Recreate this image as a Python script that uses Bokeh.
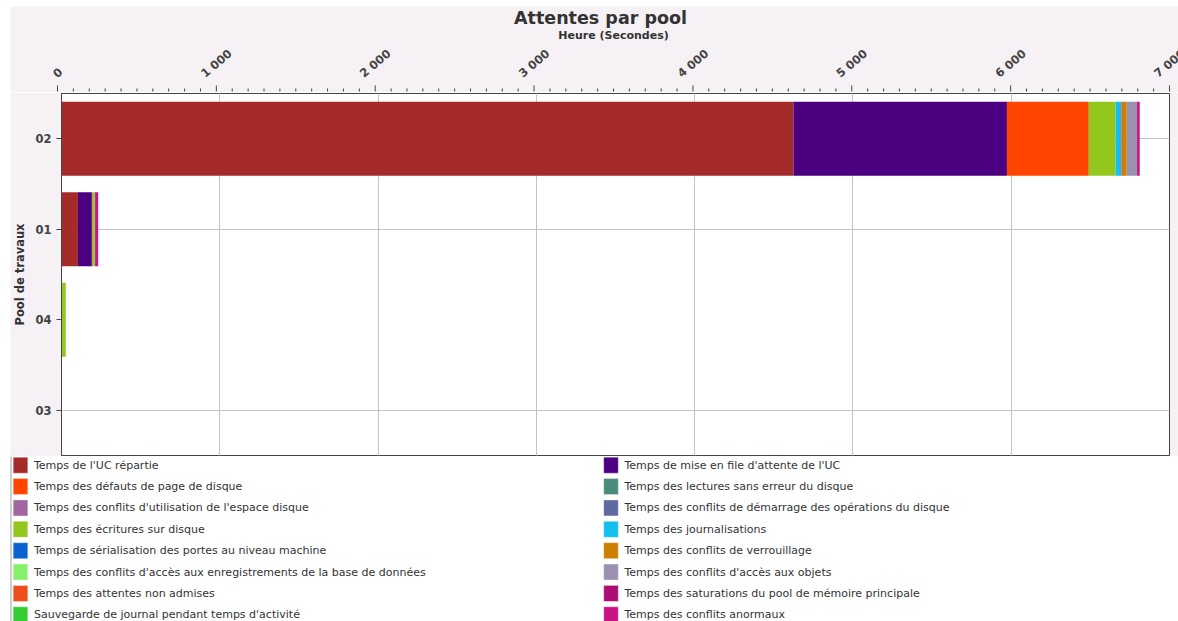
import math
from bokeh.plotting import figure
from bokeh.models import (ColumnDataSource, Range1d, FactorRange, FixedTicker,
                          Span, Spacer, Grid)
from bokeh.layouts import column, row
from bokeh.embed import file_html
from bokeh.resources import INLINE
from bokeh.core.properties import value

# ---------------- data ----------------
pools = ["02", "01", "04", "03"]          # top to bottom

series_labels = [
    "Temps de l'UC répartie",
    "Temps de mise en file d'attente de l'UC",
    "Temps des défauts de page de disque",
    "Temps des lectures sans erreur du disque",
    "Temps des conflits d'utilisation de l'espace disque",
    "Temps des conflits de démarrage des opérations du disque",
    "Temps des écritures sur disque",
    "Temps des journalisations",
    "Temps de sérialisation des portes au niveau machine",
    "Temps des conflits de verrouillage",
    "Temps des conflits d'accès aux enregistrements de la base de données",
    "Temps des conflits d'accès aux objets",
    "Temps des attentes non admises",
    "Temps des saturations du pool de mémoire principale",
    "Sauvegarde de journal pendant temps d'activité",
    "Temps des conflits anormaux",
]

series_colors = [
    "#A52A2A", "#4B0082", "#FF4500", "#4A8C7C",
    "#A165A0", "#5F6A9F", "#93C71E", "#12BFEF",
    "#0B63D3", "#CC7F00", "#87F06A", "#9B90AF",
    "#EE4E1B", "#AD0E73", "#33CC33", "#C71585",
]

# values per pool, in the order of `pools` (seconds)
uc_repartie          = [4625, 104, 0, 0]
file_attente_uc      = [1348, 88, 0, 0]
defauts_page         = [517, 0, 0, 0]
lectures_disque      = [0, 0, 0, 0]
conflits_espace      = [0, 0, 0, 0]
conflits_demarrage   = [0, 0, 0, 0]
ecritures_disque     = [170, 14, 27, 0]
journalisations      = [31, 0, 0, 0]
serialisation        = [6, 0, 0, 0]
verrouillage         = [33, 3, 0, 0]
enregistrements      = [0, 0, 0, 0]
acces_objets         = [65, 3, 0, 0]
attentes_non_admises = [0, 0, 0, 0]
saturations_memoire  = [0, 0, 0, 0]
sauvegarde_journal   = [0, 0, 0, 0]
conflits_anormaux    = [17, 20, 0, 0]

tick_values = [0, 1000, 2000, 3000, 4000, 5000, 6000, 7000]
tick_labels = ["0", "1 000", "2 000", "3 000", "4 000", "5 000", "6 000", "7 000"]
minor_tick_values = [v for v in range(0, 7001, 100) if v % 1000]

chart_title = "Attentes par pool"
x_title = "Heure (Secondes)"
y_title = "Pool de travaux"

series_values = [
    uc_repartie, file_attente_uc, defauts_page, lectures_disque,
    conflits_espace, conflits_demarrage, ecritures_disque, journalisations,
    serialisation, verrouillage, enregistrements, acces_objets,
    attentes_non_admises, saturations_memoire, sauvegarde_journal, conflits_anormaux,
]

# ---------------- geometry (page pixels) ----------------
FONT = "DejaVu Sans"
PANEL = "#F5F1F5"
AX = "#444444"
X0_PAGE, TOP_PAGE = 10, 6            # panel origin
FRAME_L, FRAME_R = 57, 1169          # frame left / right on the page
FRAME_T, FRAME_B = 93, 455           # frame top / bottom on the page
XMAX = 7000
PX_PER_UNIT = (FRAME_R - FRAME_L) / XMAX
PW = 1178 - X0_PAGE                  # panel width

# ---------------- main chart (frame + y axis) ----------------
keys = [f"s{i}" for i in range(len(series_labels))]
data = {"pool": pools}
for k, vals in zip(keys, series_values):
    data[k] = vals
src = ColumnDataSource(data)

PH = (FRAME_B - FRAME_T) + 2
p = figure(width=PW, height=PH,
           y_range=FactorRange(factors=list(reversed(pools))),
           x_range=Range1d(0, XMAX), x_axis_location=None,
           output_backend="svg", toolbar_location=None,
           min_border_left=FRAME_L - X0_PAGE, min_border_right=X0_PAGE + PW - FRAME_R,
           min_border_top=1, min_border_bottom=1)

p.hbar_stack(keys, y="pool", height=0.82, color=series_colors,
             source=src, line_color=None)

p.background_fill_color = "white"
p.border_fill_color = PANEL
p.outline_line_color = AX

p.add_layout(Grid(dimension=0, ticker=FixedTicker(ticks=tick_values),
                  grid_line_color="#C4C4C4"))
p.ygrid.grid_line_color = "#C4C4C4"
p.renderers.insert(0, p.renderers.pop())   # keep grid under bars (level handles it anyway)

ya = p.yaxis[0]
ya.axis_label = y_title
ya.axis_label_text_font = FONT
ya.axis_label_text_font_size = "11.5px"
ya.axis_label_text_font_style = "bold"
ya.axis_label_text_color = "#333333"
ya.major_label_text_font = FONT
ya.major_label_text_font_size = "11.5px"
ya.major_label_text_font_style = "bold"
ya.major_label_text_color = AX
ya.major_tick_out = 5
ya.major_tick_in = 0
ya.major_label_standoff = 5
ya.axis_line_color = AX
ya.major_tick_line_color = AX

# ---------------- top strip: title, x axis title, ticks, rotated tick labels ----------------
TH = (FRAME_T - 1) - TOP_PAGE       # strip height; bottom edge sits on the frame's top border row
t = figure(width=PW, height=TH,
           x_range=Range1d((X0_PAGE - FRAME_L) / PX_PER_UNIT,
                           (X0_PAGE + PW - FRAME_L) / PX_PER_UNIT),
           y_range=Range1d(-1, TH - 1),    # y = pixels above the frame top
           output_backend="svg", toolbar_location=None, min_border=0)
t.axis.visible = False
t.grid.visible = False
t.outline_line_color = None
t.background_fill_color = PANEL
t.border_fill_color = PANEL

t.segment(x0=tick_values, x1=tick_values, y0=[0] * len(tick_values),
          y1=[6] * len(tick_values), line_color=AX, line_width=1)
t.segment(x0=minor_tick_values, x1=minor_tick_values, y0=[0] * len(minor_tick_values),
          y1=[3] * len(minor_tick_values), line_color=AX, line_width=1)

ANG = 0.7
TFS = 11.5
def _half_box(s):
    w = TFS * sum(0.348 if c == " " else 0.696 for c in s)
    return (w * math.sin(ANG) + 9 * math.cos(ANG)) / 2

t.text(x=tick_values, y=[13 + _half_box(s) for s in tick_labels], text=tick_labels,
       angle=ANG, text_align="center", text_baseline="middle",
       text_font=value(FONT), text_font_size=f"{TFS}px", text_font_style="bold",
       text_color=AX)

t.text(x=[XMAX / 2], y=[FRAME_T - 37], text=[x_title],
       text_align="center", text_baseline="middle",
       text_font=value(FONT), text_font_size="11px", text_font_style="bold",
       text_color="#333333")

t.text(x=[(600 - FRAME_L) / PX_PER_UNIT], y=[FRAME_T - 19], text=[chart_title],
       text_align="center", text_baseline="middle",
       text_font=value(FONT), text_font_size="17.5px", text_font_style="bold",
       text_color="#333333")

# ---------------- legend (below) ----------------
LW = 1178
LY0 = FRAME_B + 1
LH = 621 - LY0
lf = figure(width=LW, height=LH, x_range=Range1d(0, LW), y_range=Range1d(LH, 0),
            output_backend="svg", toolbar_location=None, min_border=0)
lf.axis.visible = False
lf.grid.visible = False
lf.outline_line_color = None
lf.background_fill_color = "white"
lf.border_fill_color = "white"

col_x = [20.0, 610.5]
row_y0, row_dy = 464.7 - LY0, 21.37
n = len(series_labels)
leg = ColumnDataSource(dict(
    sx=[col_x[i % 2] for i in range(n)],
    tx=[col_x[i % 2] + 13.5 for i in range(n)],
    sy=[row_y0 + row_dy * (i // 2) for i in range(n)],
    color=series_colors,
    label=series_labels,
))
lf.rect(x="sx", y="sy", width=14.6, height=16, fill_color="color",
        line_color="white", line_alpha=0.35, source=leg)
lf.text(x="tx", y="sy", text="label", source=leg, text_baseline="middle",
        text_font=value(FONT), text_font_size="11px", text_color="#333333")
lf.add_layout(Span(location=10.5, dimension="height", line_color="#A0A0A0", line_width=1))

layout = column(
    Spacer(width=LW, height=TOP_PAGE),
    row(Spacer(width=X0_PAGE, height=TH), t, spacing=0),
    row(Spacer(width=X0_PAGE, height=PH), p, spacing=0),
    lf,
    spacing=0,
)
open("out.html", "w").write(file_html(layout, INLINE))
